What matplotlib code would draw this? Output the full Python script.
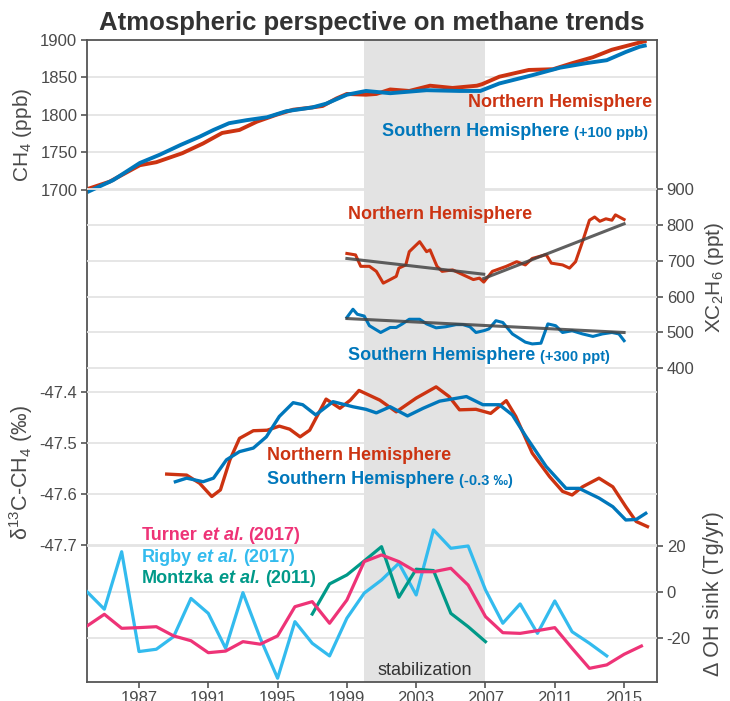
import numpy as np
import matplotlib.pyplot as plt

# ---- data ----
# CH4 (ppb)
ch4_nh_yr = [1984.0, 1985.3, 1987.05, 1988.0, 1989.5, 1990.7, 1991.8, 1992.8, 1993.8, 1994.9, 1995.9,
             1997.0, 1997.6, 1998.4, 1999.0, 2000.1, 2000.7, 2001.5, 2002.6, 2003.8, 2005.1, 2006.5,
             2006.8, 2007.8, 2009.5, 2010.9, 2012.0, 2013.2, 2014.3, 2015.3, 2016.3]
ch4_nh = [1701, 1711, 1733, 1737, 1749, 1762, 1776, 1780, 1791, 1800, 1807, 1810, 1812, 1822, 1828,
          1827, 1828, 1834, 1832, 1839, 1836, 1839, 1841, 1851, 1860, 1861, 1869, 1877, 1887, 1893, 1899]
ch4_sh_yr = [1984.0, 1985.5, 1987.05, 1988.2, 1989.4, 1990.5, 1991.3, 1992.2, 1993.2, 1994.4, 1995.5,
             1997.0, 1997.8, 1999.0, 2000.1, 2001.5, 2003.6, 2005.5, 2006.7, 2007.8, 2009.7, 2011.3,
             2012.8, 2014.0, 2015.1, 2015.9, 2016.3]
ch4_sh = [1697, 1713, 1736, 1747, 1760, 1771, 1780, 1789, 1793, 1797, 1805, 1810, 1815, 1827, 1832,
          1829, 1833, 1832, 1832, 1842, 1853, 1863, 1869, 1873, 1884, 1891, 1893]

# column ethane (ppt)
c2h6_nh_yr = [1999.0, 1999.5, 1999.8, 2000.3, 2000.7, 2001.1, 2001.5, 2001.85, 2002.0, 2002.4, 2002.6,
              2003.2, 2003.6, 2003.8, 2004.2, 2004.5, 2005.1, 2005.5, 2005.9, 2006.3, 2006.65, 2006.9,
              2007.4, 2008.2, 2008.8, 2009.3, 2009.7, 2010.5, 2010.8, 2011.45, 2011.85, 2012.2, 2012.6,
              2013.0, 2013.3, 2013.6, 2013.95, 2014.3, 2014.5, 2015.0]
c2h6_nh = [721, 717, 685, 685, 671, 638, 648, 657, 680, 689, 726, 754, 726, 731, 685, 671, 675, 666,
           657, 648, 652, 641, 671, 685, 698, 689, 707, 718, 694, 689, 680, 698, 754, 814, 823, 811,
           818, 814, 829, 816]
c2h6_sh_yr = [1999.0, 1999.35, 1999.6, 2000.0, 2000.3, 2000.95, 2001.5, 2001.85, 2002.2, 2002.6, 2003.2,
              2003.6, 2004.15, 2004.7, 2005.3, 2005.7, 2006.1, 2006.45, 2006.9, 2007.2, 2007.6, 2008.0,
              2008.55, 2009.3, 2009.7, 2010.2, 2010.6, 2011.05, 2011.45, 2012.0, 2012.6, 2013.2,
              2013.75, 2014.3, 2014.7, 2015.0]
c2h6_sh = [542, 565, 551, 546, 519, 500, 514, 514, 524, 537, 537, 524, 513, 516, 522, 522, 516, 500,
           505, 510, 533, 528, 496, 473, 468, 470, 524, 519, 500, 505, 496, 489, 496, 500, 496, 477]
trend_nh1 = ([1999.0, 2006.9], [707, 663])
trend_nh2 = ([2006.9, 2015.0], [651, 804])
trend_sh = ([1999.0, 2015.0], [539, 500])

# d13C-CH4 (permil)
d13_nh_yr = [1988.6, 1989.75, 1990.5, 1991.2, 1991.7, 1992.25, 1992.8, 1993.6, 1994.4, 1995.1, 1995.7,
             1996.3, 1996.85, 1997.8, 1998.6, 1999.2, 1999.7, 2000.9, 2001.85, 2003.0, 2004.15, 2004.9,
             2005.5, 2006.45, 2007.3, 2008.2, 2008.75, 2009.7, 2010.7, 2011.45, 2012.0, 2012.6,
             2013.55, 2014.35, 2015.1, 2015.7, 2016.35]
d13_nh = [-47.561, -47.563, -47.579, -47.605, -47.592, -47.533, -47.491, -47.476, -47.475, -47.467,
          -47.473, -47.488, -47.475, -47.414, -47.432, -47.416, -47.397, -47.416, -47.439, -47.412,
          -47.390, -47.409, -47.435, -47.434, -47.442, -47.417, -47.448, -47.520, -47.566, -47.595,
          -47.602, -47.586, -47.569, -47.586, -47.625, -47.654, -47.664]
d13_sh_yr = [1989.1, 1989.75, 1990.7, 1991.3, 1992.05, 1992.8, 1993.6, 1994.35, 1995.1, 1995.9, 1996.45,
             1997.2, 1998.2, 1999.35, 2000.1, 2000.7, 2001.5, 2002.5, 2003.4, 2004.35, 2005.9, 2006.85,
             2007.8, 2008.55, 2009.35, 2010.5, 2011.65, 2012.4, 2013.55, 2014.35, 2015.1, 2015.7, 2016.25]
d13_sh = [-47.576, -47.569, -47.576, -47.569, -47.533, -47.517, -47.510, -47.488, -47.448, -47.421,
          -47.425, -47.445, -47.419, -47.429, -47.434, -47.441, -47.429, -47.447, -47.432, -47.418,
          -47.409, -47.425, -47.425, -47.445, -47.488, -47.546, -47.589, -47.589, -47.608, -47.625,
          -47.651, -47.650, -47.638]

# OH sink anomaly (Tg/yr)
turner_yr = list(range(1984, 2017))
turner = [-14.8, -9.7, -15.8, -15.5, -15.1, -19.1, -21.2, -26.4, -25.7, -21.6, -22.7, -19.1, -6.4, -4.2,
          -13.6, -3.5, 13.2, 16.1, 13.2, 8.8, 8.8, 10.3, 3.0, -10.7, -17.7, -18.0, -16.8, -15.5, -24.5,
          -33.2, -31.7, -27.1, -23.5]
rigby_yr = list(range(1984, 2015))
rigby = [0.1, -7.5, 17.5, -25.9, -24.9, -19.4, -2.8, -9.3, -24.5, -0.3, -20.1, -37.5, -12.9, -22.3,
         -27.8, -11.4, -0.5, 5.2, 12.5, -1.3, 27.0, 19.0, 20.0, 0.9, -13.6, -5.2, -18.0, -3.9, -17.3,
         -22.3, -27.8]
montzka_yr = list(range(1997, 2008))
montzka = [-9.6, 3.5, 7.4, 13.5, 19.7, -2.3, 9.9, 9.3, -9.3, -15.1, -21.6]

xtick_years = [1987, 1991, 1995, 1999, 2003, 2007, 2011, 2015]

# ---- style ----
RED, BLUE = '#cc3311', '#0077bb'
PINK, CYAN, TEAL = '#ee3377', '#33bbee', '#009988'
GREY = '#555555'
plt.rcParams['font.family'] = ['Liberation Sans', 'DejaVu Sans']
plt.rcParams['mathtext.fontset'] = 'custom'
plt.rcParams['mathtext.rm'] = 'Liberation Sans'
plt.rcParams['axes.unicode_minus'] = False

fig = plt.figure(figsize=(7.3, 7.01), dpi=100)
ax = fig.add_axes([0.1192, 0.0276, 0.7808, 0.9154])
ax_e = ax.twinx()
ax_d = ax.twinx()
ax_o = ax.twinx()

ax.set_xlim(1984, 2016.9)
ax.set_ylim(1044.4, 1900)
ax_e.set_ylim(-476.6, 1318.2)
ax_d.set_ylim(-47.9680, -46.7098)
ax_o.set_ylim(-38.99, 240.0)

ax.axvspan(2000, 2007, color='#e3e3e3', lw=0, zorder=0)

for a in (ax, ax_e, ax_d, ax_o):
    a.grid(axis='y', color='#e4e4e4', lw=1.3)
    a.tick_params(colors=GREY, labelcolor='#4a4a4a', labelsize=12, length=4.5, width=1.2, pad=2.5)
for a in (ax_e, ax_d, ax_o):
    for s in a.spines.values():
        s.set_visible(False)
for s in ax.spines.values():
    s.set_color(GREY)
    s.set_linewidth(1.3)

ax.set_xticks(xtick_years)
ax.set_yticks([1700, 1750, 1800, 1850, 1900])
ax_e.set_yticks([400, 500, 600, 700, 800, 900])
ax_d.set_yticks([-47.7, -47.6, -47.5, -47.4])
ax_d.set_yticklabels(['-47.7', '-47.6', '-47.5', '-47.4'])
ax_d.yaxis.set_ticks_position('left')
ax_o.set_yticks([-20, 0, 20])

# CH4
ax.plot(ch4_nh_yr, ch4_nh, color=RED, lw=2.8, solid_capstyle='butt')
ax.plot(ch4_sh_yr, ch4_sh, color=BLUE, lw=2.8, solid_capstyle='butt')

# ethane
ax_e.plot(c2h6_nh_yr, c2h6_nh, color=RED, lw=2.2)
ax_e.plot(c2h6_sh_yr, c2h6_sh, color=BLUE, lw=2.2)
for tx, ty in (trend_nh1, trend_nh2, trend_sh):
    ax_e.plot(tx, ty, color='#444444', lw=2.2, alpha=0.85)

# d13C
ax_d.plot(d13_nh_yr, d13_nh, color=RED, lw=2.4)
ax_d.plot(d13_sh_yr, d13_sh, color=BLUE, lw=2.4)

# OH
ax_o.plot(rigby_yr, rigby, color=CYAN, lw=2.3)
ax_o.plot(montzka_yr, montzka, color=TEAL, lw=2.3)
ax_o.plot(turner_yr, turner, color=PINK, lw=2.3)


def chain(a, x, y, parts, ha='left', gap=3.5):
    # parts: list of (text, size, style, colour); laid out in a row
    if ha == 'left':
        t = a.text(x, y, parts[0][0], ha='left', va='bottom', fontsize=parts[0][1],
                   color=parts[0][3], fontweight='bold', fontstyle=parts[0][2])
        for txt, size, style, col in parts[1:]:
            t = a.annotate(txt, xy=(1, 0), xycoords=t, xytext=(gap, 0), textcoords='offset points',
                           ha='left', va='bottom', fontsize=size, color=col,
                           fontweight='bold', fontstyle=style)
    else:
        txt, size, style, col = parts[-1]
        t = a.text(x, y, txt, ha='right', va='bottom', fontsize=size, color=col,
                   fontweight='bold', fontstyle=style)
        for txt, size, style, col in reversed(parts[:-1]):
            t = a.annotate(txt, xy=(0, 0), xycoords=t, xytext=(-gap, 0), textcoords='offset points',
                           ha='right', va='bottom', fontsize=size, color=col,
                           fontweight='bold', fontstyle=style)


# CH4 labels
ax.text(2016.6, 1816, 'Northern Hemisphere', ha='right', va='center', fontsize=13,
        fontweight='bold', color=RED)
chain(ax, 2016.4, 1766, [('Southern Hemisphere', 13, 'normal', BLUE),
                         ('(+100 ppb)', 10.5, 'normal', BLUE)], ha='right')
# ethane labels
ax_e.text(1999.04, 829, 'Northern Hemisphere', ha='left', va='center', fontsize=13,
          fontweight='bold', color=RED)
chain(ax_e, 1999.04, 412, [('Southern Hemisphere', 13, 'normal', BLUE),
                           ('(+300 ppt)', 10.5, 'normal', BLUE)])
# d13C labels
ax_d.text(1994.37, -47.5255, 'Northern Hemisphere', ha='left', va='center', fontsize=13,
          fontweight='bold', color=RED)
chain(ax_d, 1994.37, -47.5885, [('Southern Hemisphere', 13, 'normal', BLUE),
                                ('(-0.3 ‰)', 10.5, 'normal', BLUE)])
# OH legend
for yy, name, yr, col in ((20.7, 'Turner', '(2017)', PINK), (11.2, 'Rigby', '(2017)', CYAN),
                          (2.0, 'Montzka', '(2011)', TEAL)):
    chain(ax_o, 1987.17, yy, [(name, 13, 'normal', col), ('et al.', 13, 'italic', col),
                              (yr, 13, 'normal', col)])

ax.text(2003.5, 0.018, 'stabilization', transform=ax.get_xaxis_transform(), ha='center',
        va='center', fontsize=13, color='#333333')

ax.set_title('Atmospheric perspective on methane trends', fontsize=18.5, fontweight='bold',
             color='#333333', pad=7)

fig.text(23 / 730, 1 - 135 / 701, 'CH$_4$ (ppb)', rotation=90, ha='center', va='center',
         fontsize=15, color='#4a4a4a')
fig.text(21 / 730, 1 - 473 / 701, 'δ$^{13}$C-CH$_4$ (‰)', rotation=90, ha='center', va='center',
         fontsize=15.5, color='#4a4a4a')
fig.text(714 / 730, 1 - 277 / 701, 'XC$_2$H$_6$ (ppt)', rotation=90, ha='center', va='center',
         fontsize=15, color='#4a4a4a')
fig.text(713 / 730, 1 - 594 / 701, 'Δ OH sink (Tg/yr)', rotation=90, ha='center', va='center',
         fontsize=15.5, color='#4a4a4a')

fig.savefig('out.png', dpi=100)
